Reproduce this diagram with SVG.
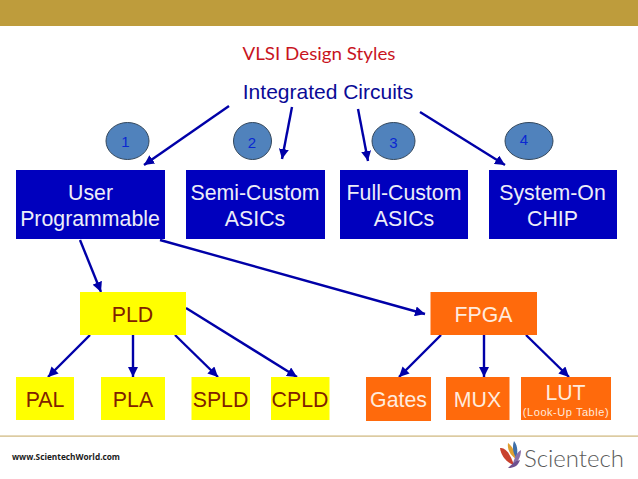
<svg xmlns="http://www.w3.org/2000/svg" width="638" height="479" viewBox="0 0 638 479">
<defs>
<style>
text{font-family:"Liberation Sans",Arial,sans-serif;text-anchor:middle}
.blue rect{fill:#0000BE}
.blue text{fill:#EDEDF8;font-size:21.300px}
.yellow rect{fill:#FFFF00}
.yellow text{fill:#7F2200;font-size:21.300px}
.orange rect{fill:#FF6A0C}
.orange text{fill:#FFEBDD;font-size:21.300px}
.num ellipse{fill:#5082BC;stroke:#33475C;stroke-width:1}
.num text{fill:#0A28D2;font-size:15px}
.conn line{stroke:#0000A8;stroke-width:2.400;marker-end:url(#a)}
</style>
<marker id="a" markerUnits="userSpaceOnUse" markerWidth="11" markerHeight="10" refX="10" refY="5" orient="auto">
<path d="M0 0L10 5L0 10Z" fill="#0000A8"/>
</marker>
</defs>
<rect width="638" height="479" fill="#fff"/>
<rect id="band" width="638" height="26" fill="#BE9C3C"/>
<rect id="footer-line" y="435.500" width="638" height="1.200" fill="#CDB57A"/>
<text id="title" x="319" y="59.500" style="font-family:Lato,'Liberation Sans',sans-serif;font-size:18px;fill:#C8141E" textLength="153" lengthAdjust="spacingAndGlyphs">VLSI Design Styles</text>
<g id="root"><text x="328" y="99" style="font-size:21px;fill:#0A0A96">Integrated Circuits</text></g>
<g class="conn" id="connectors">
<line x1="229" y1="106" x2="144" y2="165"/>
<line x1="292" y1="107" x2="282" y2="159"/>
<line x1="358" y1="109" x2="368" y2="161"/>
<line x1="420" y1="112" x2="505" y2="165"/>
<line x1="80" y1="240" x2="101" y2="292"/>
<line x1="160" y1="240" x2="425" y2="314"/>
<line x1="90" y1="335" x2="48" y2="377"/>
<line x1="133" y1="335" x2="133" y2="377"/>
<line x1="175" y1="335" x2="218" y2="377"/>
<line x1="186" y1="308" x2="297" y2="377"/>
<line x1="441" y1="335" x2="399" y2="377"/>
<line x1="484" y1="335" x2="484" y2="377"/>
<line x1="526" y1="335" x2="569" y2="377"/>
</g>
<g id="n1" class="num"><ellipse cx="127.500" cy="141" rx="21.500" ry="18.500"/><text x="125.500" y="147">1</text></g>
<g id="n2" class="num"><ellipse cx="252.500" cy="141" rx="19" ry="18.500"/><text x="252" y="148">2</text></g>
<g id="n3" class="num"><ellipse cx="393.500" cy="141" rx="21.500" ry="18.500"/><text x="393.500" y="148">3</text></g>
<g id="n4" class="num"><ellipse cx="529" cy="141" rx="24" ry="18.500"/><text x="524" y="145">4</text></g>
<g id="user" class="blue"><rect x="16" y="170" width="149" height="69"/><text x="90.500" y="200">User</text><text x="90" y="226">Programmable</text></g>
<g id="semi" class="blue"><rect x="186" y="170" width="139" height="69"/><text x="255" y="200">Semi-Custom</text><text x="255" y="226">ASICs</text></g>
<g id="full" class="blue"><rect x="340" y="170" width="128" height="69"/><text x="404" y="200">Full-Custom</text><text x="404" y="226">ASICs</text></g>
<g id="soc" class="blue"><rect x="489" y="170" width="128" height="69"/><text x="552.500" y="200">System-On</text><text x="552.500" y="226">CHIP</text></g>
<g id="pld" class="yellow"><rect x="80" y="292" width="106" height="43"/><text x="132.500" y="322">PLD</text></g>
<g id="pal" class="yellow"><rect x="16" y="377" width="58" height="43"/><text x="45" y="407">PAL</text></g>
<g id="pla" class="yellow"><rect x="101" y="377" width="64" height="43"/><text x="133" y="407">PLA</text></g>
<g id="spld" class="yellow"><rect x="191.500" y="377" width="58.500" height="43"/><text x="220.500" y="407">SPLD</text></g>
<g id="cpld" class="yellow"><rect x="271" y="377" width="58.500" height="43"/><text x="300" y="407">CPLD</text></g>
<g id="fpga" class="orange"><rect x="430.500" y="292" width="106.500" height="43"/><text x="483.500" y="322">FPGA</text></g>
<g id="gates" class="orange"><rect x="366" y="377" width="65" height="44"/><text x="398.500" y="407">Gates</text></g>
<g id="mux" class="orange"><rect x="446" y="377" width="63.500" height="43"/><text x="477.500" y="407">MUX</text></g>
<g id="lut" class="orange"><rect x="521" y="377" width="90" height="43"/><text x="565.500" y="400">LUT</text><text x="566" y="416" style="font-size:11px;letter-spacing:.55px">(Look-Up Table)</text></g>
<text id="url" x="66" y="460" style="font-family:'Open Sans','Liberation Sans',sans-serif;font-size:9.200px;font-weight:700;fill:#1A1A1A" textLength="108" lengthAdjust="spacingAndGlyphs">www.ScientechWorld.com</text>
<g id="logo">
<path d="M500 448C505 447 510 453 514 465C507 463 501 456 500 448Z" fill="#C8402C"/>
<path d="M508 443C512 446 515 451 516 459C511 456 507 450 508 443Z" fill="#E0A030"/>
<path d="M514 441C518 446 518 453 516 458C513 453 512 447 514 441Z" fill="#3E6FA8"/>
<path d="M521 450C521 458 517 463 512 467C514 459 516 453 521 450Z" fill="#8A70A8"/>
<path d="M520 460C518 466 514 468 508 468C512 464 515 461 520 460Z" fill="#6D4F8E"/>
</g>
<text id="brand" x="574" y="467" style="font-family:Lato,'Open Sans',sans-serif;font-size:24px;font-weight:300;fill:#5A5A5A">Scientech</text>
</svg>
